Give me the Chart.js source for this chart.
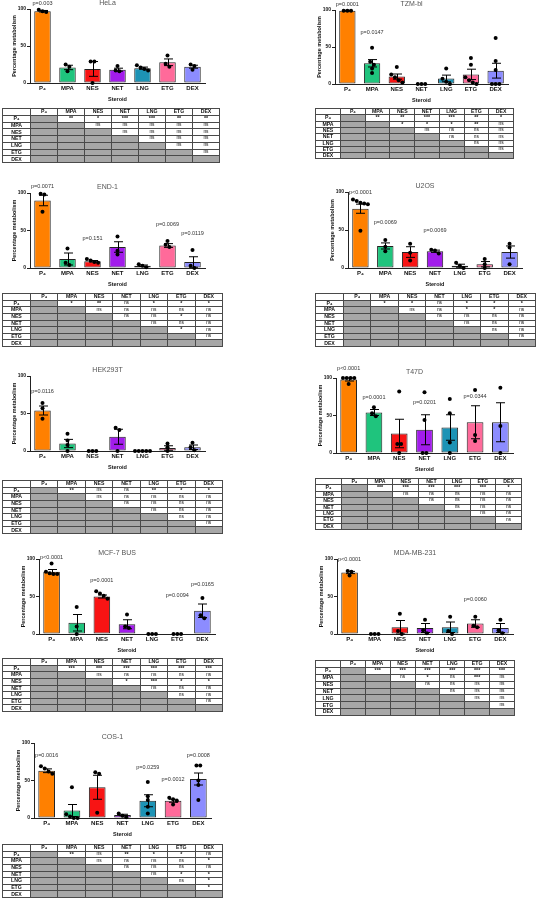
<!DOCTYPE html>
<html>
<head>
<meta charset="utf-8">
<script src="https://cdn.jsdelivr.net/npm/chart.js@4.4.1/dist/chart.umd.min.js"></script>
<style>
  html, body { margin: 0; padding: 0; background: #fff; }
  body { position: relative; width: 536px; height: 900px; overflow: hidden; font-family: 'Liberation Sans', Arial, sans-serif; }
  canvas.plot { position: absolute; }
  table.sig { position: absolute; border-collapse: collapse; table-layout: fixed; border: 1px solid #333; background: #fff; filter: grayscale(1); }
  table.sig td { border: 1px solid #4a4a4a; padding: 0; text-align: center; vertical-align: middle; font-size: 4.8px; line-height: 1; color: #111; overflow: hidden; white-space: nowrap; }
  table.sig td.lab { font-weight: bold; font-size: 5.2px; }
  table.sig td.star { font-weight: bold; font-size: 5.4px; }
  table.sig td.g { background: #a9a6a6; }
</style>
</head>
<body>
<script>
// categories
const steroids = ['P₄', 'MPA', 'NES', 'NET', 'LNG', 'ETG', 'DEX'];

// HeLa
const helaMean = [97, 21, 19, 18, 20, 28, 22];
const helaSem = [1, 3, 10, 2, 1.5, 4.5, 2];
const helaDots = [[99, 96, 97], [25, 22, 16], [29, 29, 0], [23, 17, 16], [24, 21, 19, 17], [37, 26, 22], [25, 23, 18]];
const helaP = [[0, 'p=0.003', 108]];
const helaSig = [
  ['**', '*', '***', '***', '**', '**'],
  ['ns', 'ns', 'ns', 'ns', 'ns'],
  ['ns', 'ns', 'ns', 'ns'],
  ['ns', 'ns', 'ns'],
  ['ns', 'ns'],
  ['ns']
];

// TZM-bl
const tzmMean = [99, 28, 10, 0, 7.5, 13, 18];
const tzmSem = [0.5, 5, 3.5, 0, 4.5, 7, 10];
const tzmDots = [[99, 99, 99], [49, 30, 26, 21, 15], [23, 13, 9, 5, 2], [0, 0, 0], [21, 7, 3, 0], [35, 26, 9, 5, 2, 0], [62, 31, 19, 0, 0, 0]];
const tzmP = [[0, 'p=0.0001', 108], [1, 'p=0.0147', 70]];
const tzmSig = [
  ['**', '**', '***', '***', '**', '*'],
  ['*', '*', '*', '**', 'ns'],
  ['ns', 'ns', 'ns', 'ns'],
  ['ns', 'ns', 'ns'],
  ['ns', 'ns'],
  ['ns']
];

// END-1
const endMean = [90, 12, 9, 28, 3, 30, 8];
const endSem = [7, 8, 1, 7, 1, 2.5, 7];
const endDots = [[99, 98, 75], [26, 7, 4], [12, 10, 8, 7], [42, 23, 18], [5, 3, 1], [36, 31, 28], [24, 3, 0]];
const endP = [[0, 'p=0.0071', 109], [2, 'p=0.151', 40], [5, 'p=0.0069', 58], [6, 'p=0.0119', 46]];
const endSig = [
  ['*', '**', 'ns', '*', '*', '*'],
  ['ns', 'ns', 'ns', 'ns', 'ns'],
  ['ns', 'ns', '*', 'ns'],
  ['ns', 'ns', 'ns'],
  ['*', 'ns'],
  ['ns']
];

// U2OS
const u2osMean = [78, 29, 21, 22, 3, 5, 21];
const u2osSem = [6, 4, 7, 1.5, 2, 3.5, 8];
const u2osDots = [[90, 88, 86, 85, 84, 49], [37, 28, 22], [32, 20, 10], [24, 23, 19], [7, 3, 0], [12, 5, 0], [32, 27, 5]];
const u2osP = [[0, 'p<0.0001', 100], [1, 'p=0.0069', 60], [3, 'p=0.0069', 50]];
const u2osSig = [
  ['*', '*', 'ns', '*', '*', '*'],
  ['ns', 'ns', '*', '*', 'ns'],
  ['ns', 'ns', 'ns', 'ns'],
  ['ns', 'ns', 'ns'],
  ['ns', 'ns'],
  ['ns']
];

// HEK293T
const hekMean = [54, 10, 0, 19, 0, 4, 5];
const hekSem = [6, 5.5, 0, 10, 0, 3, 3];
const hekDots = [[64, 57, 43], [23, 14, 8, 0], [0, 0, 0], [31, 28, 0], [0, 0, 0, 0, 0], [10, 5, 0], [11, 5, 1]];
const hekP = [[0, 'p=0.0116', 79]];
const hekSig = [
  ['**', 'ns', 'ns', '**', '*', '*'],
  ['ns', 'ns', 'ns', 'ns', 'ns'],
  ['ns', 'ns', 'ns', 'ns'],
  ['ns', 'ns', 'ns'],
  ['ns', 'ns'],
  ['ns']
];

// T47D
const t47Mean = [98, 54, 26, 31, 34, 41, 41];
const t47Sem = [2, 4, 19, 20, 17, 22, 26];
const t47Dots = [[100, 100, 100, 100, 92], [61, 53, 49], [82, 12, 12, 0], [81, 44, 0, 0], [72, 53, 14, 0], [84, 24, 16], [87, 36, 0]];
const t47P = [[0, 'p<0.0001', 113], [1, 'p=0.0001', 74], [3, 'p=0.0201', 67], [5, 'p=0.0344', 76]];
const t47Sig = [
  ['***', '***', '***', '***', '***', '*'],
  ['ns', 'ns', 'ns', 'ns', 'ns'],
  ['ns', 'ns', 'ns', 'ns'],
  ['ns', 'ns', 'ns'],
  ['ns', 'ns'],
  ['ns']
];

// MCF-7 BUS
const mcfMean = [83, 15, 50, 13, 0, 0, 31];
const mcfSem = [3, 11, 2, 6, 0, 0, 9];
const mcfDots = [[94, 83, 81, 80, 80], [36, 10, 0], [57, 54, 51, 47], [26, 10, 8], [0, 0, 0], [0, 0, 0], [48, 25, 21]];
const mcfP = [[0, 'p<0.0001', 102], [2, 'p=0.0001', 72], [5, 'p=0.0094', 51], [6, 'p=0.0165', 66]];
const mcfSig = [
  ['***', '***', '***', '***', '***', '***'],
  ['ns', 'ns', 'ns', 'ns', 'ns'],
  ['*', '***', '*', '*'],
  ['ns', 'ns', 'ns'],
  ['ns', 'ns'],
  ['ns']
];

// MDA-MB-231
const mdaMean = [82, 0, 9, 8, 9, 14, 8];
const mdaSem = [1.5, 0, 9, 6, 7, 5, 6];
const mdaDots = [[84, 83, 78], [0, 0, 0], [27, 4, 0], [19, 5, 1], [23, 4, 0], [23, 11, 9], [19, 5, 1]];
const mdaP = [[0, 'p<0.0001', 100], [5, 'p=0.0060', 46]];
const mdaSig = [
  ['***', '***', '***', '***', '***', '***'],
  ['ns', '*', 'ns', '***', 'ns'],
  ['ns', 'ns', 'ns', 'ns'],
  ['ns', 'ns', 'ns'],
  ['ns', 'ns'],
  ['ns']
];

// COS-1
const cosMean = [63, 10, 41, 4, 23, 23, 52];
const cosSem = [2.5, 8, 16, 1, 8, 2, 8];
const cosDots = [[69, 66, 62, 59], [41, 5, 2, 0, 0], [61, 59, 7], [6, 3, 1], [48, 29, 24, 15, 6], [27, 25, 23, 18], [70, 70, 50, 44, 24]];
const cosP = [[0, 'p=0.0016', 84], [4, 'p=0.0259', 67], [5, 'p=0.0012', 52], [6, 'p=0.0008', 84]];
const cosSig = [
  ['**', 'ns', '**', '*', '*', 'ns'],
  ['ns', 'ns', 'ns', 'ns', '*'],
  ['ns', 'ns', 'ns', 'ns'],
  ['ns', '*', '*'],
  ['ns', '*'],
  ['*']
];

// style + layout (plot area L,T,R,B and table box x,y,w,h)
const barColors = ['#FF8000', '#1FC47D', '#F81414', '#A21CEB', '#1D93B5', '#FF6A9A', '#8C8CFF'];
const FONT = "'Liberation Sans', Arial, sans-serif";
const TOP_PAD = 8;

const panels = [
  { title: 'HeLa', mean: helaMean, sem: helaSem, dots: helaDots, p: helaP, sig: helaSig, area: [30, 9, 205, 83], table: [2, 108, 217, 54] },
  { title: 'TZM-bl', mean: tzmMean, sem: tzmSem, dots: tzmDots, p: tzmP, sig: tzmSig, area: [335, 10, 508, 84], table: [315, 108, 198, 50] },
  { title: 'END-1', mean: endMean, sem: endSem, dots: endDots, p: endP, sig: endSig, area: [30, 193, 205, 268], table: [2, 293, 220, 53] },
  { title: 'U2OS', mean: u2osMean, sem: u2osSem, dots: u2osDots, p: u2osP, sig: u2osSig, area: [348, 192, 522, 268], table: [315, 293, 220, 53] },
  { title: 'HEK293T', mean: hekMean, sem: hekSem, dots: hekDots, p: hekP, sig: hekSig, area: [30, 376, 205, 451], table: [2, 480, 220, 53] },
  { title: 'T47D', mean: t47Mean, sem: t47Sem, dots: t47Dots, p: t47P, sig: t47Sig, area: [336, 378, 513, 453], table: [315, 478, 206, 51] },
  { title: 'MCF-7 BUS', mean: mcfMean, sem: mcfSem, dots: mcfDots, p: mcfP, sig: mcfSig, area: [39, 559, 215, 634], table: [2, 658, 220, 53] },
  { title: 'MDA-MB-231', mean: mdaMean, sem: mdaSem, dots: mdaDots, p: mdaP, sig: mdaSig, area: [337, 559, 513, 634], table: [315, 660, 199, 55] },
  { title: 'COS-1', mean: cosMean, sem: cosSem, dots: cosDots, p: cosP, sig: cosSig, area: [34, 743, 211, 818], table: [2, 844, 220, 53] }
];

// fan out dots that sit on top of each other (like the scatter in prism)
function spread(values) {
  const order = values.map((v, k) => k).sort((a, b) => values[b] - values[a]);
  const offs = new Array(values.length).fill(0);
  let group = [order[0]];
  const flush = () => group.forEach((k, j) => { offs[k] = (j - (group.length - 1) / 2) * 0.15; });
  for (let j = 1; j < order.length; j++) {
    if (values[group[group.length - 1]] - values[order[j]] < 5) group.push(order[j]);
    else { flush(); group = [order[j]]; }
  }
  flush();
  return offs;
}

const errorBars = {
  id: 'errorBars',
  afterDatasetsDraw(chart, args, opts) {
    const { ctx, scales: { x, y } } = chart;
    ctx.save();
    ctx.strokeStyle = '#000';
    ctx.lineWidth = 1;
    opts.sem.forEach((s, i) => {
      if (!s) return;
      const m = opts.mean[i];
      const px = Math.round(x.getPixelForValue(i)) + 0.5;
      const top = y.getPixelForValue(m + s);
      const bot = y.getPixelForValue(Math.max(m - s, 0));
      ctx.beginPath();
      ctx.moveTo(px, top); ctx.lineTo(px, bot);
      ctx.moveTo(px - 4.5, top); ctx.lineTo(px + 4.5, top);
      ctx.moveTo(px - 4.5, bot); ctx.lineTo(px + 4.5, bot);
      ctx.stroke();
    });
    ctx.restore();
  }
};

const pLabels = {
  id: 'pLabels',
  afterDatasetsDraw(chart, args, opts) {
    const { ctx, scales: { x, y } } = chart;
    ctx.save();
    ctx.font = '5.5px ' + FONT;
    ctx.fillStyle = '#333';
    ctx.textAlign = 'center';
    ctx.textBaseline = 'middle';
    opts.items.forEach(([i, text, level]) => ctx.fillText(text, x.getPixelForValue(i), y.getPixelForValue(level)));
    ctx.restore();
  }
};

function buildChart(p) {
  const [L, T, R, B] = p.area;
  const canvas = document.createElement('canvas');
  canvas.className = 'plot';
  canvas.width = R - L + 26;
  canvas.height = B - T + 30 + TOP_PAD;
  canvas.style.left = (L - 20) + 'px';
  canvas.style.top = (T - 10 - TOP_PAD) + 'px';
  document.body.appendChild(canvas);

  // dots sit on the category axis itself; fractional index = sideways spread
  const dots = [];
  p.dots.forEach((vals, i) => {
    const offs = spread(vals);
    vals.forEach((v, k) => dots.push({ x: i + offs[k], y: v }));
  });

  new Chart(canvas, {
    type: 'bar',
    data: {
      labels: steroids,
      datasets: [
        {
          type: 'bar', data: p.mean, backgroundColor: barColors, borderColor: '#222', borderWidth: 1,
          borderSkipped: false, barPercentage: 0.66, categoryPercentage: 1, order: 2
        },
        {
          type: 'scatter', data: dots, parsing: false, backgroundColor: '#000', borderWidth: 0,
          pointRadius: 2, clip: false, order: 1
        }
      ]
    },
    options: {
      responsive: false,
      animation: false,
      events: [],
      layout: { padding: { top: TOP_PAD, left: 0, right: 6, bottom: 0 } },
      plugins: {
        legend: { display: false },
        tooltip: { enabled: false },
        title: {
          display: true, text: p.title, color: '#555',
          font: { size: 7, weight: 'normal', family: FONT }, padding: { top: 0, bottom: 1.6 }
        },
        errorBars: { mean: p.mean, sem: p.sem },
        pLabels: { items: p.p }
      },
      scales: {
        x: {
          type: 'category', offset: true,
          grid: { display: false, drawTicks: false },
          border: { color: '#222', width: 1 },
          ticks: { color: '#111', font: { size: 6, weight: 'bold', family: FONT }, padding: 2, autoSkip: false, maxRotation: 0 },
          title: { display: true, text: 'Steroid', color: '#111', font: { size: 5.5, weight: 'bold', family: FONT }, padding: 0 },
          afterFit(s) { s.height = 20; }
        },
        y: {
          min: 0, max: 100,
          ticks: { stepSize: 50, color: '#111', font: { size: 5, weight: 'bold', family: FONT }, padding: 1 },
          grid: { drawOnChartArea: false, drawTicks: true, tickLength: 3, color: '#222' },
          border: { color: '#222', width: 1 },
          title: {
            display: true, text: 'Percentage metabolism', color: '#111',
            font: { size: 5.5, weight: 'bold', family: FONT }, padding: { top: 1, bottom: 0 }
          },
          afterFit(s) { s.width = 20; }
        }
      }
    },
    plugins: [errorBars, pLabels]
  });
}

function buildTable(p) {
  const [x, y, w, h] = p.table;
  const t = document.createElement('table');
  t.className = 'sig';
  Object.assign(t.style, { left: x + 'px', top: y + 'px', width: w + 'px', height: h + 'px' });
  const first = Math.round(w * 0.127);
  const cg = document.createElement('colgroup');
  for (let c = 0; c < 8; c++) {
    const col = document.createElement('col');
    col.style.width = (c === 0 ? first : (w - first) / 7) + 'px';
    cg.appendChild(col);
  }
  t.appendChild(cg);
  const rowH = (h / 8) + 'px';

  const head = t.insertRow();
  head.style.height = rowH;
  ['', ...steroids].forEach(s => {
    const td = head.insertCell();
    td.className = 'lab';
    td.textContent = s;
  });
  steroids.forEach((s, r) => {
    const tr = t.insertRow();
    tr.style.height = rowH;
    const lab = tr.insertCell();
    lab.className = 'lab';
    lab.textContent = s;
    for (let c = 0; c < 7; c++) {
      const td = tr.insertCell();
      if (c <= r) { td.className = 'g'; continue; }
      const v = p.sig[r][c - r - 1];
      td.textContent = v;
      if (v !== 'ns') td.className = 'star';
    }
  });
  document.body.appendChild(t);
}

panels.forEach(p => { buildChart(p); buildTable(p); });
</script>
</body>
</html>
